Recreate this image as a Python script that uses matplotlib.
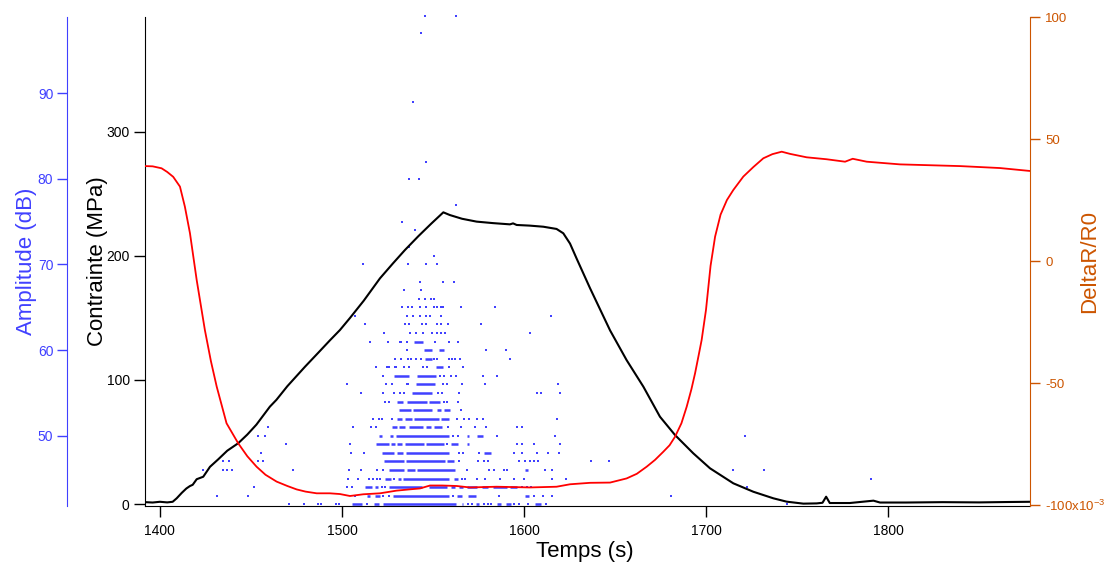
import matplotlib
matplotlib.use("Agg")
import matplotlib.pyplot as plt

plt.rcParams['font.family'] = ['Liberation Sans', 'DejaVu Sans']
plt.rcParams['mathtext.default'] = 'regular'

# --- stress curve (MPa) ---
stress_t = [1392, 1396, 1400, 1404, 1407, 1409.2, 1412, 1414.5, 1416.5, 1418,
            1420.2, 1423.8, 1427.5, 1432, 1437, 1443, 1448, 1453, 1460.4, 1464,
            1470, 1479.7, 1487, 1493.4, 1498.9, 1504.4, 1512, 1520.9, 1528, 1534.6,
            1542, 1549, 1555.7, 1559.3, 1566, 1574, 1583, 1592.3, 1594, 1596,
            1603, 1610.6, 1617.9, 1621.6, 1625.3, 1628.9, 1636.3, 1647.3, 1656.4, 1665.6,
            1674.7, 1683, 1693, 1702.2, 1715, 1726, 1737, 1744.3, 1753.5, 1760.8,
            1764, 1766, 1768, 1779, 1792, 1795.6, 1810, 1830, 1850, 1865,
            1878]
stress_mpa = [1.5, 1.2, 1.8, 1.3, 1.8, 4.6, 9, 12.5, 14.5, 15.5,
              20, 22, 30, 36, 43, 49, 56, 64, 78.5, 84,
              95, 110.7, 122, 132, 140.3, 150, 164, 182, 194, 204.8,
              216, 226, 235.2, 233, 230, 227.7, 226.5, 225.5, 226.3, 225,
              224.5, 223.6, 221.8, 218.3, 210, 198, 174, 140, 116, 94.6,
              70.4, 55.6, 40.9, 28.8, 16.7, 9.9, 4.6, 1.9, 0.3, 0.5,
              1, 5.9, 0.8, 0.8, 2.7, 1.2, 1.2, 1.5, 1.3, 1.6,
              1.8]

# --- DeltaR/R0 (x10^-3) ---
dr_t = [1392, 1396, 1400.9, 1404, 1407.3, 1411, 1413.7, 1416.5, 1420.2, 1424.7,
        1428, 1431.2, 1436.6, 1443, 1448, 1453.1, 1458, 1464.1, 1470, 1475.1,
        1480, 1486.1, 1493.4, 1498.9, 1504.4, 1511.7, 1520.9, 1530, 1537, 1542.9,
        1548.4, 1555, 1563, 1570.3, 1585, 1603.3, 1617.9, 1625.3, 1636.3, 1647.3,
        1656.4, 1662, 1667.4, 1672, 1676.5, 1680, 1683, 1686.5, 1689.4, 1692,
        1694, 1696, 1697.6, 1700, 1702.5, 1705, 1708, 1711.5, 1715, 1720.5,
        1726, 1731.5, 1736.5, 1741.6, 1746.2, 1755.3, 1766.3, 1776.4, 1780.6, 1788.3,
        1806.6, 1839.6, 1861.5, 1878]
dr_val = [38.9, 38.8, 38.0, 36.5, 34.5, 30.5, 22.3, 11.4, -7.8, -28.3,
          -41.0, -51.5, -66.5, -74.7, -80.0, -84.3, -87.6, -90.4, -92.2, -93.6,
          -94.5, -95.2, -95.2, -95.5, -96.3, -95.6, -95.2, -94.1, -93.6, -93.2,
          -92.0, -92.0, -92.2, -92.8, -92.5, -92.8, -92.5, -91.5, -90.9, -90.8,
          -89.1, -87.2, -84.3, -81.5, -78.2, -75.5, -72.0, -66.5, -59.7, -52.5,
          -46.0, -38.5, -32.4, -20.0, -2.0, 10.0, 19.0, 25.0, 29.1, 34.6,
          38.5, 42.1, 43.8, 44.8, 43.9, 42.5, 41.7, 40.7, 41.9, 40.7,
          39.6, 38.9, 38.1, 36.9]

# --- acoustic emission hits: amplitude (dB) -> times (s) ---
hits_single = {
    99: [1545.6, 1562.6],
    97: [1543.2],
    89: [1538.8],
    82: [1546.2],
    80: [1536.6, 1542.2],
    77: [1562.6],
    75: [1532.8],
    74: [1539.9],
    72: [1536.6],
    71: [1550.5],
    70: [1511.3, 1536.1, 1546, 1552],
    68: [1542.7, 1555.5, 1561.5],
    67: [1533.9, 1543.2],
    66: [1542.1, 1545.4, 1548.7, 1550.4],
    65: [1532.8, 1536.1, 1538.3, 1542.7, 1546, 1550.4, 1552, 1554.2, 1555.3, 1565.2, 1583.9],
    64: [1507, 1535.5, 1538.8, 1542.7, 1546, 1548.2, 1554.2, 1614.6],
    63: [1512.4, 1534.4, 1536.6, 1543.8, 1546, 1552, 1554.2, 1558, 1576.2],
    62: [1522.9, 1537.2, 1540.5, 1544.3, 1549.3, 1552, 1554.2, 1556.4, 1603.1],
    61: [1515.2, 1525.1, 1531.7, 1532.2, 1535.5, 1550.9, 1558.6, 1563.5],
    60: [1535.5, 1578.9, 1589.9],
    59: [1529, 1532.2, 1536.1, 1537.7, 1540.5, 1543.2, 1550.4, 1552, 1558.6, 1560.3,
         1561.9, 1564.6, 1592.1],
    58: [1518.5, 1524.5, 1525.6, 1529, 1529.5, 1533.9, 1536.6, 1544.3, 1546.5, 1558.6, 1566.3],
    57: [1522.3, 1553.7, 1555.9, 1559.7, 1562.4, 1577.3, 1585],
    56: [1502.6, 1524, 1527.3, 1535.5, 1536.1, 1555.3, 1557.5, 1565.7, 1578.4, 1618.5],
    55: [1510.4, 1522.3, 1528.4, 1531.7, 1533.9, 1552.6, 1554.8, 1564.1, 1606.9, 1609.2, 1619.6],
    54: [1523.4, 1525.6, 1555.9, 1557.5, 1563.5],
    53: [1565.2],
    52: [1516.8, 1520.1, 1521.8, 1527.3, 1563, 1566.8, 1569.6, 1574, 1577.3, 1618],
    51: [1459.2, 1505.9, 1515.7, 1518.5, 1558, 1565.2, 1572.9, 1578.9, 1596, 1598.7],
    50: [1453.8, 1457.7, 1560.8, 1563.5, 1585, 1616.9, 1721.3],
    49: [1469.2, 1504.2, 1557.5, 1596, 1598.7, 1605.3, 1619.6],
    48: [1455.3, 1504.8, 1511.9, 1564.1, 1566.3, 1575.1, 1594.3, 1598.7, 1606.9, 1613, 1619],
    47: [1434.4, 1437.9, 1453.8, 1456.6, 1564.1, 1574.5, 1577.8, 1580, 1597, 1600.4,
         1603.1, 1605.3, 1607.5, 1636.8, 1646.7],
    46: [1423.4, 1434.4, 1436.6, 1439.4, 1473.1, 1503.7, 1510.2, 1519, 1522.3, 1568.5,
         1580.6, 1583.3, 1588.8, 1590.5, 1611.3, 1615.2, 1714.6, 1731.9],
    45: [1503.1, 1508.6, 1514.6, 1516.8, 1519, 1520.7, 1528.4, 1565.7, 1567.4, 1574,
         1578.4, 1586.6, 1594.3, 1599.8, 1615.2, 1622.9, 1790.5],
    44: [1451.6, 1502.6, 1505.3, 1521.8, 1523.4, 1598.7, 1601.5, 1603.7, 1722.3],
    43: [1431.6, 1448.4, 1507, 1522.3, 1525.6, 1560.8, 1586.1, 1605.3, 1610.2, 1615.2, 1680.8],
    42: [1470.7, 1479.1, 1486.8, 1488.3, 1496.5, 1498.5, 1513.5, 1569, 1571.2, 1577.8,
         1580, 1581.7, 1594.3, 1597, 1602, 1611.9, 1744.3],
}
# dense stretches where hits are back to back (start, end)
hits_runs = {
    61: [(1539.4, 1544.3)],
    60: [(1544.9, 1549.3), (1553.1, 1555.9)],
    59: [(1545.4, 1549.3)],
    58: [(1551.5, 1555.3)],
    57: [(1528.4, 1536.6), (1541, 1551.5)],
    56: [(1540.5, 1550.9)],
    55: [(1538.3, 1549.3)],
    54: [(1530, 1533.3), (1535.5, 1546.5), (1547.6, 1553.8)],
    53: [(1531.1, 1537.7), (1538.8, 1549.3), (1552, 1554.2), (1555.9, 1559.2)],
    52: [(1530, 1532.8), (1534.4, 1538.3), (1539.4, 1553.1), (1554.2, 1558.6)],
    51: [(1527.3, 1530), (1531.1, 1534.4), (1536.6, 1544.3), (1546, 1548.7), (1550.4, 1554.8)],
    50: [(1520.1, 1521.8), (1526.2, 1527.8), (1529.5, 1558.6), (1568.5, 1569.6), (1574, 1577.3)],
    49: [(1518.5, 1525.6), (1526.7, 1528.9), (1530, 1532.8), (1534.4, 1544.9), (1546, 1555.9),
         (1559.7, 1563.5), (1568.5, 1569.6)],
    48: [(1521.8, 1528.4), (1530, 1533.3), (1535, 1558.6), (1577.8, 1581.7)],
    47: [(1522.9, 1533.9), (1535, 1556.4), (1557.5, 1561.3)],
    46: [(1525.6, 1533.9), (1535.5, 1539.9), (1541, 1561.9), (1600.4, 1602)],
    45: [(1523.4, 1526.7), (1530.6, 1532.2), (1533.3, 1558.6), (1561.3, 1563.5)],
    44: [(1512.4, 1516.3), (1517.9, 1519.6), (1525.6, 1543.8), (1547.6, 1557.5), (1559.7, 1561.9),
         (1564.1, 1566.3), (1568.5, 1574), (1577, 1580), (1583, 1590.5), (1592.3, 1596)],
    43: [(1513.5, 1515.2), (1517.9, 1520.7), (1527.8, 1558.6), (1563, 1565.7), (1569, 1573.4),
         (1600.4, 1602.6)],
    42: [(1505.3, 1510.8), (1517.4, 1520.1), (1522.3, 1562.4), (1565.7, 1566.3), (1573.4, 1575.1),
         (1585, 1587.2), (1589.9, 1592.7), (1605.9, 1609.2)],
}

x_ticks = [1400, 1500, 1600, 1700, 1800]
stress_ticks = [0, 100, 200, 300]
amp_ticks = [50, 60, 70, 80, 90]
dr_ticks = [-100, -50, 0, 50, 100]
dr_ticklabels = ['-100x10$^{-3}$', '-50', '0', '50', '100']

BLUE = '#4040ff'
ORANGE = '#cc5500'

fig = plt.figure(figsize=(11.04, 5.67), dpi=100)
ax = fig.add_axes([145 / 1104, 61 / 567, 885 / 1104, 489 / 567])
ax_amp = ax.twinx()
ax_dr = ax.twinx()

# draw order: hits at the back, then stress, then DeltaR
ax_amp.set_zorder(1)
ax.set_zorder(2)
ax_dr.set_zorder(3)
ax.patch.set_visible(False)
ax_dr.patch.set_visible(False)

# hits
for db, times in hits_single.items():
    ax_amp.plot(times, [db] * len(times), linestyle='none', marker='s', ms=2.1,
                mew=0, color=BLUE, clip_on=False)
for db, runs in hits_runs.items():
    for start, end in runs:
        ax_amp.hlines(db, start, end, colors=BLUE, lw=1.8, clip_on=False)

ax.plot(stress_t, stress_mpa, color='black', lw=1.5)
ax_dr.plot(dr_t, dr_val, color='#ff0000', lw=1.3)

ax.set_xlim(1391.8, 1878)
ax.set_ylim(-1.6, 392.7)
ax_amp.set_ylim(41.8, 98.9)
ax_dr.set_ylim(-100.4, 100)

# spines
ax.spines['top'].set_visible(False)
ax.spines['right'].set_visible(False)
for s in ['top', 'right', 'bottom']:
    ax_amp.spines[s].set_visible(False)
for s in ['top', 'left', 'bottom']:
    ax_dr.spines[s].set_visible(False)

ax_amp.spines['left'].set_visible(True)
ax_amp.spines['left'].set_position(('outward', 56))
ax_amp.spines['left'].set_color(BLUE)
ax_amp.yaxis.set_ticks_position('left')
ax_amp.yaxis.set_label_position('left')

ax_dr.spines['right'].set_color(ORANGE)

# ticks
ax.set_xticks(x_ticks)
ax.set_yticks(stress_ticks)
ax.tick_params(axis='both', direction='out', length=8, width=1, labelsize=10, pad=3)
ax.tick_params(axis='x', pad=5)

ax_amp.set_yticks(amp_ticks)
ax_amp.tick_params(axis='y', direction='out', length=7, width=1, labelsize=10,
                   color=BLUE, labelcolor=BLUE, pad=3)

ax_dr.set_yticks(dr_ticks)
ax_dr.set_yticklabels(dr_ticklabels)
ax_dr.tick_params(axis='y', direction='out', length=7, width=1, labelsize=9.5,
                  color=ORANGE, labelcolor=ORANGE, pad=4)

# labels
ax.set_xlabel('Temps (s)', fontsize=16)
ax.xaxis.set_label_coords(0.497, -0.072)
ax.set_ylabel('Contrainte (MPa)', fontsize=16)
ax.yaxis.set_label_coords(-0.042, 0.5)
ax_amp.set_ylabel('Amplitude (dB)', fontsize=16, color=BLUE)
ax_amp.yaxis.set_label_coords(-0.122, 0.5)
ax_dr.set_ylabel('DeltaR/R0', fontsize=16, color=ORANGE)
ax_dr.yaxis.set_label_coords(1.055, 0.5)

fig.savefig('out.png', dpi=100)
